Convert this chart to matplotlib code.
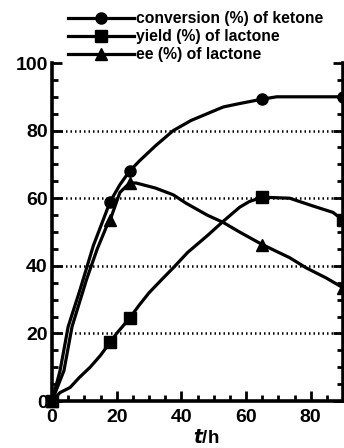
import matplotlib
matplotlib.use("Agg")
import matplotlib.pyplot as plt
from matplotlib.ticker import MultipleLocator
from matplotlib.legend_handler import HandlerTuple

plt.rcParams['font.family'] = ['Liberation Sans', 'DejaVu Sans']
plt.rcParams['font.weight'] = 'bold'

# curves (t in h, value in %)
conv_t = [0, 2.5, 5, 8.7, 12.8, 16, 18, 21, 24, 27, 32, 37.5, 43, 48, 53, 58, 65, 69.5, 90]
conv_v = [0, 9, 22, 33, 46, 54, 59, 64, 68, 71, 75.5, 80, 83, 85, 87, 88, 89.3, 90, 90]
yield_t = [0, 2.5, 5.6, 8.5, 11.8, 15, 18, 20, 24, 27, 30, 34, 37.5, 42, 47.9, 53, 58, 61, 65, 73.5, 80.7, 86.9, 90]
yield_v = [0, 2.5, 4, 7, 10, 13.5, 17.4, 20, 24.5, 28.4, 32, 36, 39.4, 44, 48.8, 53.2, 57.3, 59, 60.3, 60, 57.7, 55.8, 53.5]
ee_t = [0, 3.7, 6.2, 10.7, 14, 16.9, 18, 21, 24, 26, 28, 32, 37.5, 41.5, 48, 53, 58, 65, 73.5, 78.6, 84.8, 90]
ee_v = [0, 9, 22, 36, 45, 51.7, 53.6, 61.7, 64.5, 64.5, 64, 63, 61, 58.5, 55, 52.8, 50, 46.3, 42.4, 39.4, 36.4, 33.5]

# measured points (markers)
pts_t = [0, 18, 24, 65, 90]
conv_pts = [0, 59, 68, 89.3, 90]
yield_pts = [0, 17.4, 24.5, 60.3, 53.5]
ee_pts = [0, 53.6, 64.5, 46.3, 33.5]

labels = ['conversion (%) of ketone', 'yield (%) of lactone', 'ee (%) of lactone']

fig = plt.figure(figsize=(3.44, 4.48), dpi=100)
ax = fig.add_axes([52 / 344, 47 / 448, 291 / 344, 338 / 448])

handles = []
for t, v, pv, mk, ms in [(conv_t, conv_v, conv_pts, 'o', 8),
                         (yield_t, yield_v, yield_pts, 's', 9),
                         (ee_t, ee_v, ee_pts, '^', 9)]:
    ln, = ax.plot(t, v, color='black', lw=2.3, clip_on=False)
    pm, = ax.plot(pts_t, pv, ls='none', marker=mk, ms=ms, color='black', clip_on=False)
    handles.append((ln, pm))

for g in [20, 40, 60, 80]:
    ax.axhline(g, color='black', lw=1.8, ls=(0, (0.6, 1.2)), zorder=0)

ax.set_xlim(0, 90)
ax.set_ylim(0, 100)
ax.spines['top'].set_visible(False)
for s in ['left', 'right', 'bottom']:
    ax.spines[s].set_linewidth(2.6)

ax.xaxis.set_major_locator(MultipleLocator(20))
ax.xaxis.set_minor_locator(MultipleLocator(5))
ax.yaxis.set_major_locator(MultipleLocator(20))
ax.yaxis.set_minor_locator(MultipleLocator(5))
ax.tick_params(which='both', direction='in', right=True, width=2, labelsize=14)
ax.tick_params(which='major', length=7)
ax.tick_params(which='minor', length=4)
ax.tick_params(axis='y', pad=3)
ax.tick_params(axis='x', pad=6)

ax.set_xlabel('$\\mathbf{\\it{t}}$/h', fontsize=13.5, fontweight='bold')
ax.xaxis.set_label_coords(0.53, -0.083)

fig.legend(handles, labels, handler_map={tuple: HandlerTuple(ndivide=1)},
           loc='upper left', bbox_to_anchor=(68 / 344, 1 - 11 / 448),
           frameon=False, fontsize=11.3, handlelength=4.2, handletextpad=0.15,
           labelspacing=0.2, borderpad=0, borderaxespad=0)

fig.savefig('out.png', dpi=100)
